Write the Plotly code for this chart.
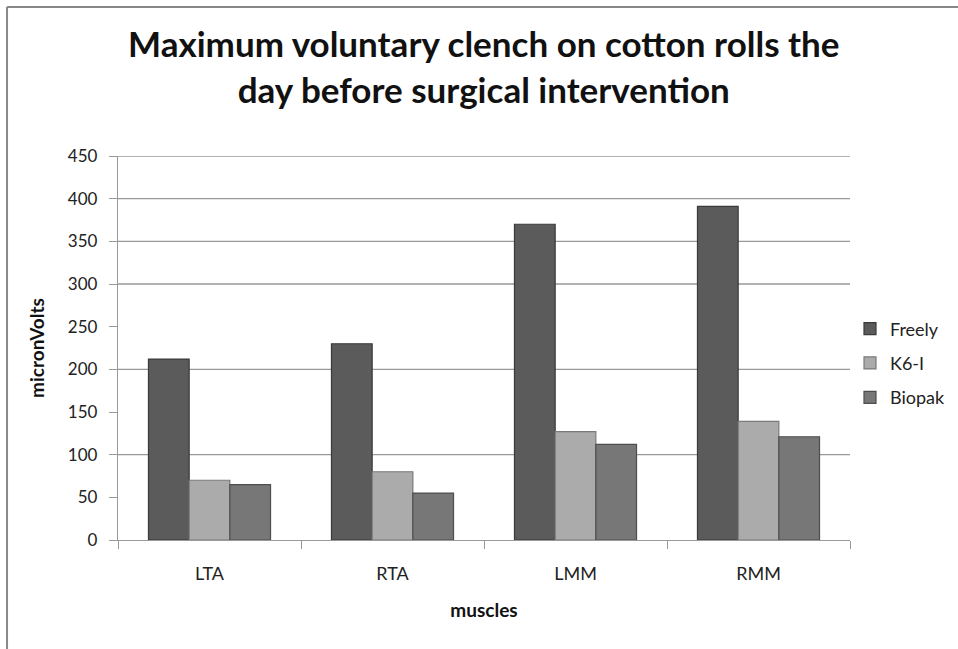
import plotly.graph_objects as go

muscles = ['LTA', 'RTA', 'LMM', 'RMM']
freely = [212, 230, 370, 391]
k6i = [70, 80, 127, 139]
biopak = [65, 55, 112, 121]

series_names = ['Freely', 'K6-I', 'Biopak']
series_values = [freely, k6i, biopak]
bar_colors = ['#5b5b5b', '#ababab', '#777777']
edge_colors = ['#3a3a3a', '#7a7a7a', '#4e4e4e']

# gridlines that show up in the original picture
grid_values = [100, 200, 300, 350, 400, 450]

FONT = 'Lato'

fig = go.Figure()

for name, vals, col, edge in zip(series_names, series_values, bar_colors, edge_colors):
    fig.add_trace(go.Bar(
        x=muscles,
        y=vals,
        name=name,
        legendgroup=name,
        marker=dict(color=col, line=dict(color=edge, width=1.2)),
    ))

# horizontal gridlines
for v in grid_values:
    fig.add_shape(
        type='line', xref='paper', yref='y',
        x0=0, x1=1, y0=v, y1=v,
        line=dict(color='#999999', width=1.3),
        layer='below',
    )

# outer chart frame (only left and top edges visible)
fig.add_shape(type='line', xref='paper', yref='paper',
              x0=-0.1516, x1=-0.1516, y0=-0.5, y1=1.388,
              line=dict(color='#888888', width=2))
fig.add_shape(type='line', xref='paper', yref='paper',
              x0=-0.1516, x1=1.5, y0=1.388, y1=1.388,
              line=dict(color='#888888', width=2))

fig.update_layout(
    width=958,
    height=649,
    margin=dict(l=118, r=108, t=156, b=109, autoexpand=False),
    paper_bgcolor='white',
    plot_bgcolor='white',
    barmode='group',
    bargap=0.333,
    bargroupgap=0,
    font=dict(family=FONT, color='#222222'),
    title=dict(
        text='<b>Maximum voluntary clench on cotton rolls the<br>day before surgical intervention</b>',
        x=0.505, xanchor='center',
        y=0.912, yanchor='middle',
        font=dict(size=35, color='#111111', family=FONT),
    ),
    legend=dict(
        x=1.0, xanchor='left',
        y=0.46, yanchor='middle',
        font=dict(size=18, color='#222222'),
        tracegroupgap=8,
        itemwidth=30,
    ),
    showlegend=True,
)

fig.update_xaxes(
    showline=True, linecolor='#999999', linewidth=1.3,
    ticks='outside', tickson='boundaries', ticklen=8, tickcolor='#999999',
    tickfont=dict(size=18, color='#222222'),
    ticklabelstandoff=17,
    title=dict(text='<b>muscles</b>', font=dict(size=19, color='#111111'), standoff=20),
    showgrid=False,
)

fig.update_yaxes(
    range=[0, 450],
    dtick=50,
    showgrid=False,
    zeroline=False,
    showline=True, linecolor='#999999', linewidth=1.3,
    ticks='outside', ticklen=8, tickcolor='#999999',
    tickfont=dict(size=17, color='#222222'),
    ticklabelstandoff=8,
    title=dict(text='<b>micronVolts</b>', font=dict(size=19, color='#111111'), standoff=18),
)

fig.write_html('out.html', config={'displayModeBar': False},
               post_script="document.body.style.margin='0';")
